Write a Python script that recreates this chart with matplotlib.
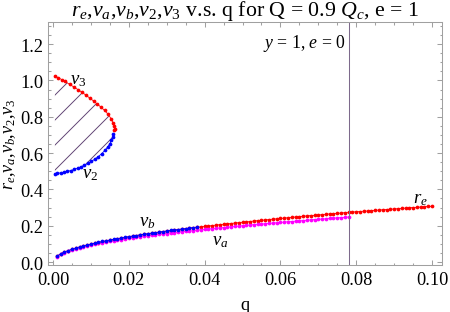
import numpy as np
import matplotlib
matplotlib.use('Agg')
import matplotlib.pyplot as plt
from matplotlib.ticker import MultipleLocator, FormatStrFormatter

# ---- data ----
q_grid = np.round(np.arange(1, 101) * 0.001, 3)

r_e = [0.031, 0.044, 0.054, 0.062, 0.069, 0.076, 0.082, 0.088, 0.093, 0.098,
       0.103, 0.107, 0.112, 0.116, 0.120, 0.124, 0.128, 0.131, 0.135, 0.139,
       0.142, 0.145, 0.149, 0.152, 0.155, 0.158, 0.161, 0.164, 0.167, 0.170,
       0.173, 0.175, 0.178, 0.181, 0.183, 0.186, 0.189, 0.191, 0.194, 0.196,
       0.198, 0.201, 0.203, 0.206, 0.208, 0.210, 0.212, 0.215, 0.217, 0.219,
       0.221, 0.223, 0.226, 0.228, 0.230, 0.232, 0.234, 0.236, 0.238, 0.240,
       0.242, 0.244, 0.246, 0.248, 0.250, 0.252, 0.254, 0.256, 0.257, 0.259,
       0.261, 0.263, 0.265, 0.267, 0.268, 0.270, 0.272, 0.274, 0.275, 0.277,
       0.278, 0.280, 0.281, 0.283, 0.285, 0.286, 0.288, 0.289, 0.291, 0.292,
       0.294, 0.295, 0.297, 0.299, 0.300, 0.301, 0.303, 0.304, 0.306, 0.307]

v_a = [0.030, 0.042, 0.052, 0.060, 0.067, 0.073, 0.079, 0.084, 0.089, 0.093,
       0.098, 0.102, 0.106, 0.109, 0.113, 0.117, 0.120, 0.123, 0.127, 0.130,
       0.133, 0.136, 0.139, 0.141, 0.144, 0.147, 0.150, 0.152, 0.155, 0.157,
       0.160, 0.162, 0.164, 0.167, 0.169, 0.171, 0.173, 0.175, 0.178, 0.180,
       0.182, 0.184, 0.186, 0.188, 0.190, 0.192, 0.194, 0.196, 0.198, 0.200,
       0.202, 0.204, 0.206, 0.208, 0.209, 0.211, 0.213, 0.215, 0.216, 0.218,
       0.220, 0.222, 0.223, 0.225, 0.227, 0.228, 0.230, 0.232, 0.234, 0.235,
       0.237, 0.238, 0.240, 0.242, 0.243, 0.245, 0.246, 0.248]

v_b = [0.032, 0.045, 0.055, 0.063, 0.070, 0.077, 0.083, 0.089, 0.094, 0.099,
       0.104, 0.108, 0.113, 0.117, 0.121, 0.125, 0.129, 0.132, 0.136, 0.140,
       0.143, 0.146, 0.150, 0.153, 0.156, 0.159, 0.162, 0.165, 0.168, 0.171,
       0.174, 0.176, 0.179, 0.182, 0.184, 0.187, 0.190, 0.192]

q_v3 = [0.0005, 0.0014, 0.0023, 0.0032, 0.0044, 0.0056, 0.0067, 0.0077, 0.0087,
        0.0097, 0.0107, 0.0117, 0.0127, 0.0136, 0.0145, 0.0153, 0.0159, 0.0162,
        0.0163, 0.0162]
v_3 = [1.025, 1.015, 1.005, 0.995, 0.978, 0.963, 0.948, 0.934, 0.919, 0.903,
       0.887, 0.870, 0.852, 0.835, 0.815, 0.790, 0.765, 0.748, 0.735, 0.725]

q_v2 = [0.0159, 0.0158, 0.0154, 0.0150, 0.0144, 0.0137, 0.0128, 0.0119, 0.0110,
        0.0101, 0.0092, 0.0083, 0.0074, 0.0065, 0.0056, 0.0047, 0.0038, 0.0029,
        0.0020, 0.0011, 0.0005]
v_2 = [0.705, 0.690, 0.670, 0.652, 0.634, 0.615, 0.596, 0.580, 0.566, 0.554,
       0.543, 0.533, 0.525, 0.517, 0.510, 0.504, 0.499, 0.495, 0.491, 0.488,
       0.486]

q_line = 0.0781

# ---- style ----
plt.rcParams.update({
    'font.family': ['Liberation Serif', 'DejaVu Serif'],
    'mathtext.fontset': 'custom',
    'mathtext.rm': 'Liberation Serif',
    'mathtext.it': 'Liberation Serif:italic',
    'hatch.linewidth': 0.45,
})

fig = plt.figure(figsize=(3.0, 313 / 150), dpi=150)
ax = fig.add_axes([0.106, 0.151, 0.876, 0.7755])

mk = dict(marker='o', ms=1.8, mec='none', lw=0.4)

# hatched region between v2 and v3 (closed outline: v2 from left to tip, v3 back to left)
poly_q = list(q_v2[::-1]) + list(q_v3[::-1])
poly_y = list(v_2[::-1]) + list(v_3[::-1])
ax.fill(poly_q, poly_y, facecolor='none', edgecolor='#5e4272', hatch='//', lw=0)

ax.plot(q_grid, r_e, color='#ff0000', **mk)
ax.plot(q_grid[:len(v_a)], v_a, color='#ff00ff', **mk)
ax.plot(q_grid[:len(v_b)], v_b, color='#0000ff', **mk)
ax.plot(q_v3, v_3, color='#ff0000', **mk)
ax.plot(q_v2, v_2, color='#0000ff', **mk)

ax.axvline(q_line, color='#7d6a8c', lw=0.5)

ax.set_xlim(-0.0014, 0.1026)
ax.set_ylim(-0.015, 1.322)

ax.xaxis.set_major_locator(MultipleLocator(0.02))
ax.xaxis.set_minor_locator(MultipleLocator(0.005))
ax.yaxis.set_major_locator(MultipleLocator(0.2))
ax.yaxis.set_minor_locator(MultipleLocator(0.05))
ax.xaxis.set_major_formatter(FormatStrFormatter('%.2f'))
ax.yaxis.set_major_formatter(FormatStrFormatter('%.1f'))

for s in ax.spines.values():
    s.set_color('#a0a0a0')
    s.set_linewidth(0.5)
ax.tick_params(which='both', direction='in', top=True, right=True,
               color='#a0a0a0', width=0.5, labelsize=8.8)
ax.tick_params(which='major', length=2.2, pad=2)
ax.tick_params(axis='x', which='major', pad=3)
ax.tick_params(which='minor', length=1.2)

ax.set_title(r'$r_e$,$v_a$,$v_b$,$v_2$,$v_3$ v.s. q for Q = 0.9 $Q_c$, e = 1',
             fontsize=10.5, pad=1)
ax.set_xlabel('q', fontsize=8.8, labelpad=4)
ax.set_ylabel(r'$r_e$,$v_a$,$v_b$,$v_2$,$v_3$', fontsize=8.7, labelpad=1)

fs = 9
ax.text(0.0066, 1.005, r'$v_3$', fontsize=fs, ha='center', va='center')
ax.text(0.0098, 0.49, r'$v_2$', fontsize=fs, ha='center', va='center')
ax.text(0.0248, 0.222, r'$v_b$', fontsize=fs, ha='center', va='center')
ax.text(0.0440, 0.117, r'$v_a$', fontsize=fs, ha='center', va='center')
ax.text(0.0970, 0.352, r'$r_e$', fontsize=fs, ha='center', va='center')
ax.text(q_line - 0.0008, 1.21, r'$y$ = 1, $e$ = 0', fontsize=8.5, ha='right', va='center')

fig.savefig('out.png', dpi=150)
